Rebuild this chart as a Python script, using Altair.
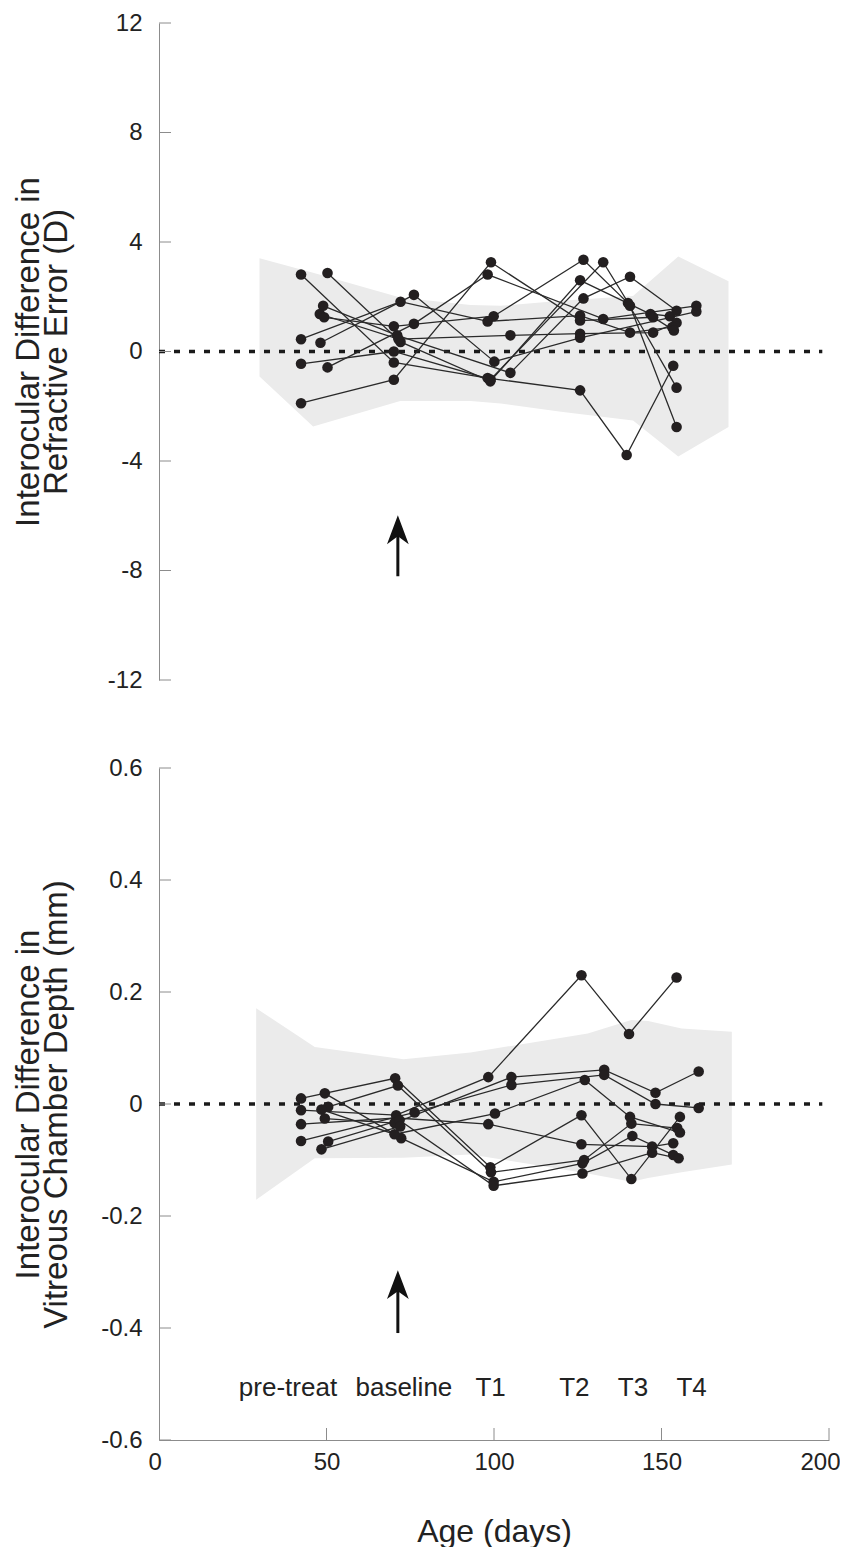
import altair as alt
import pandas as pd

FONT = "Liberation Sans"
INK = "#231f20"
AXIS_GREY = "#8c8c8c"
BAND_GREY = "#ebebeb"

# ---------------- top panel: refractive error (D) ----------------
RE_ID = (["A"] * 6 + ["B"] * 6 + ["C"] * 6 + ["D"] * 6 + ["E"] * 6 +
         ["F"] * 6 + ["G"] * 5 + ["H"] * 6 + ["I"] * 5 + ["J"] * 6)
RE_AGE = [42.4, 70.1, 98.1, 125.7, 139.6, 153.5,
          50.3, 72.1, 98.9, 125.7, 146.7, 152.5,
          49.0, 71.1, 104.9, 126.7, 140.6, 154.5,
          48.0, 71.5, 104.9, 125.7, 147.5, 154.5,
          49.3, 70.1, 99.9, 126.7, 140.0, 154.5,
          42.4, 72.1, 98.1, 125.7, 140.6, 153.2,
          48.2, 76.1, 100.1, 125.7, 160.4,
          42.4, 70.1, 99.0, 132.6, 140.6, 154.5,
          50.3, 76.1, 98.1, 132.6, 160.4,
          42.4, 70.1, 99.1, 125.7, 147.5, 153.7]
RE_DIFF = [2.81, -0.40, -0.97, -1.42, -3.78, -0.52,
           2.87, 0.35, -1.09, 2.60, 1.37, 1.29,
           1.67, 0.59, -0.78, 1.94, 2.73, 1.49,
           1.37, 0.45, 0.59, 0.65, 0.69, 1.05,
           1.25, 0.92, 1.29, 3.35, 1.77, -1.32,
           0.45, 1.82, 1.10, 1.31, 0.69, 0.89,
           0.32, 2.07, -0.37, 0.50, 1.46,
           -0.45, 0.00, -1.02, 3.26, 1.67, -2.76,
           -0.58, 1.01, 2.81, 1.19, 1.67,
           -1.89, -1.03, 3.26, 1.13, 1.25, 0.77]

RE_BAND_AGE = [30, 46, 72, 93, 102, 120, 141.5, 155, 170]
RE_BAND_UP = [3.41, 2.88, 1.97, 1.70, 1.67, 1.85, 2.03, 3.47, 2.57]
RE_BAND_LO = [-0.91, -2.74, -1.81, -1.81, -1.90, -2.20, -2.52, -3.84, -2.76]

RE_TICKS = [-12, -8, -4, 0, 4, 8, 12]
RE_ARROW = [-8.21, -6.64]          # shaft bottom, head centre

# ---------------- bottom panel: vitreous chamber depth (mm) ----------------
VC_ID = (["a"] * 6 + ["b"] * 6 + ["c"] * 6 + ["d"] * 6 + ["e"] * 6 +
         ["f"] * 6 + ["g"] * 6 + ["h"] * 6 + ["i"] * 6 + ["j"] * 2)
VC_AGE = [42.4, 70.5, 98.9, 126.1, 141.0, 155.5,
          49.5, 72.3, 99.9, 126.4, 141.3, 153.5,
          42.4, 70.8, 98.3, 126.1, 140.3, 154.5,
          50.5, 71.3, 99.1, 126.9, 141.0, 154.7,
          48.5, 70.3, 100.3, 127.1, 140.6, 155.5,
          42.4, 71.0, 98.3, 126.1, 147.2, 153.5,
          49.5, 70.3, 105.2, 132.9, 148.2, 161.1,
          42.4, 76.3, 105.2, 132.9, 148.2, 161.1,
          50.5, 71.8, 99.9, 126.4, 147.2, 155.1,
          48.5, 72.0]
VC_DIFF = [0.010, 0.046, -0.113, -0.020, -0.134, -0.023,
           0.019, -0.061, -0.139, -0.106, -0.057, -0.091,
           -0.011, -0.020, 0.048, 0.230, 0.125, 0.226,
           -0.005, 0.033, -0.122, -0.100, -0.035, -0.043,
           -0.010, -0.054, -0.017, 0.043, -0.023, -0.051,
           -0.036, -0.025, -0.036, -0.072, -0.076, -0.070,
           -0.026, -0.034, 0.048, 0.061, 0.020, 0.058,
           -0.066, -0.015, 0.034, 0.052, 0.000, -0.007,
           -0.067, -0.029, -0.146, -0.124, -0.087, -0.097,
           -0.081, -0.040]

VC_BAND_AGE = [29, 46.5, 73, 93, 128, 141, 146, 156, 171]
VC_BAND_UP = [0.171, 0.102, 0.080, 0.092, 0.126, 0.150, 0.148, 0.135, 0.129]
VC_BAND_LO = [-0.171, -0.097, -0.096, -0.090, -0.124, -0.139, -0.132, -0.122, -0.108]

VC_TICKS = [-0.6, -0.4, -0.2, 0, 0.2, 0.4, 0.6]
VC_ARROW = [-0.409, -0.329]

AGE_TICKS = [0, 50, 100, 150, 200]
ARROW_AGE = 71.3
ZERO_LINE = [0, 198]

PHASE_LABELS = ["pre-treat", "baseline", "T1", "T2", "T3", "T4"]
PHASE_AGE = [38.5, 73.1, 99.0, 124.0, 141.5, 159.0]
PHASE_Y = -0.507

W = 670
H_TOP = 657
H_BOT = 672
TICK_LEN = 12
ARROW_PATH = "M0,-1L0.6,0.6L0,0.16L-0.6,0.6Z"


def panel(ids, ages, diffs, band_age, band_up, band_lo, ticks, domain,
          arrow, title, label_expr, height, show_x):
    xscale = alt.Scale(domain=[0, 200], nice=False, zero=False)
    yscale = alt.Scale(domain=domain, nice=False, zero=False)
    yaxis = alt.Axis(values=ticks, ticks=False, grid=False, labelExpr=label_expr,
                     labelFontSize=24, labelFont=FONT, labelColor="#222",
                     labelPadding=17, labelFlush=False,
                     domainColor=AXIS_GREY, domainWidth=1,
                     title=title, titleFont=FONT, titleFontSize=33,
                     titleFontWeight="normal", titleColor="#222",
                     titleLineHeight=28, titleAngle=-90, titleAlign="center",
                     titleBaseline="alphabetic", titleX=-121, titleY=height / 2)
    if show_x:
        xaxis = alt.Axis(values=AGE_TICKS, ticks=False, grid=False, format="d",
                         labelFontSize=24, labelFont=FONT, labelColor="#222",
                         labelPadding=10, labelFlush=True, labelFlushOffset=11,
                         domainColor=AXIS_GREY, domainWidth=1,
                         title="Age (days)", titleFont=FONT, titleFontSize=32,
                         titleFontWeight="normal", titleColor="#222",
                         titlePadding=42)
    else:
        xaxis = None

    def X(field):
        return alt.X(field, type="quantitative", scale=xscale, axis=xaxis)

    def Y(field):
        return alt.Y(field, type="quantitative", scale=yscale, axis=yaxis)

    df = pd.DataFrame({"animal": ids, "age": ages, "val": diffs})
    band = pd.DataFrame({"age": band_age, "val": band_up, "lo": band_lo})

    layers = []
    layers.append(alt.Chart(band).mark_area(color=BAND_GREY, opacity=1, interpolate="linear")
                  .encode(x=X("age"), y=Y("val"), y2="lo"))
    zero = pd.DataFrame({"age": [ZERO_LINE[0]], "age2": [ZERO_LINE[1]], "val": [0]})
    layers.append(alt.Chart(zero).mark_rule(color="#1a1a1a", strokeWidth=3.5,
                                            strokeDash=[6, 9])
                  .encode(x=X("age"), x2="age2", y=Y("val")))
    layers.append(alt.Chart(df).mark_line(color="#2a2a2a", strokeWidth=1.3)
                  .encode(x=X("age"), y=Y("val"), detail="animal:N"))
    layers.append(alt.Chart(df).mark_circle(color=INK, size=112, opacity=1)
                  .encode(x=X("age"), y=Y("val")))
    shaft = pd.DataFrame({"age": [ARROW_AGE], "val": [arrow[0]], "val2": [arrow[1]]})
    layers.append(alt.Chart(shaft).mark_rule(color="#111", strokeWidth=3)
                  .encode(x=X("age"), y=Y("val"), y2="val2"))
    head = pd.DataFrame({"age": [ARROW_AGE], "val": [arrow[1]]})
    layers.append(alt.Chart(head).mark_point(shape=ARROW_PATH, filled=True, size=1310,
                                             color="#111", opacity=1, strokeWidth=0)
                  .encode(x=X("age"), y=Y("val")))
    yt = pd.DataFrame({"val": ticks})
    layers.append(alt.Chart(yt).mark_rule(color=AXIS_GREY, strokeWidth=1)
                  .encode(y=Y("val"), x=alt.value(0), x2=alt.value(TICK_LEN)))
    if show_x:
        xt = pd.DataFrame({"age": AGE_TICKS[1:]})
        layers.append(alt.Chart(xt).mark_rule(color=AXIS_GREY, strokeWidth=1)
                      .encode(x=X("age"), y=alt.value(height),
                              y2=alt.value(height - TICK_LEN)))
        lab = pd.DataFrame({"age": PHASE_AGE, "val": [PHASE_Y] * len(PHASE_AGE),
                            "label": PHASE_LABELS})
        layers.append(alt.Chart(lab).mark_text(font=FONT, fontSize=26, color="#222",
                                               align="center", baseline="middle")
                      .encode(x=X("age"), y=Y("val"), text="label:N"))
    return alt.layer(*layers).properties(width=W, height=height)


top = panel(RE_ID, RE_AGE, RE_DIFF, RE_BAND_AGE, RE_BAND_UP, RE_BAND_LO,
            RE_TICKS, [-12, 12], RE_ARROW,
            ["Interocular Difference in", "Refractive Error (D)"],
            "replace(format(datum.value, 'd'), '\u2212', '-')", H_TOP, False)

bottom = panel(VC_ID, VC_AGE, VC_DIFF, VC_BAND_AGE, VC_BAND_UP, VC_BAND_LO,
               VC_TICKS, [-0.6, 0.6], VC_ARROW,
               ["Interocular Difference in", "Vitreous Chamber Depth (mm)"],
               "datum.value == 0 ? '0' : replace(format(datum.value, '.1f'), '\u2212', '-')",
               H_BOT, True)

chart = (alt.vconcat(top, bottom, spacing=64)
         .properties(padding={"left": 4, "top": 3, "right": 0, "bottom": 0},
                     background="white")
         .configure_view(stroke=None))

chart.save("out.html", embed_options={"renderer": "svg", "actions": False})
